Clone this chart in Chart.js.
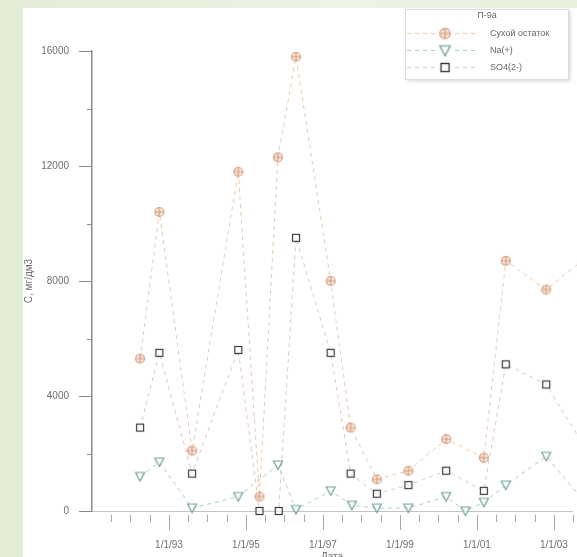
<!DOCTYPE html>
<html>
<head>
  <meta charset="utf-8">
  <title>П-9а</title>
  <script src="https://cdn.jsdelivr.net/npm/chart.js"></script>
  <style>
    html, body {
      margin: 0;
      padding: 0;
      width: 577px;
      height: 557px;
      overflow: hidden;
      background: linear-gradient(90deg, #e3edd6 0%, #edf3e5 60%, #e8f0dc 100%);
    }
    #panel {
      position: absolute;
      left: 23px;
      top: 8px;
      right: 0;
      bottom: 0;
      background: #fff;
    }
    #chart {
      position: absolute;
      left: 0;
      top: 0;
      filter: blur(0.35px);
    }
  </style>
</head>
<body>
  <div id="panel"></div>
  <canvas id="chart" width="577" height="570"></canvas>

  <script>
    // Сухой остаток
    var dryDates  = [1992.25, 1992.75, 1993.6, 1994.8, 1995.35, 1995.83, 1996.3, 1997.2, 1997.72, 1998.4, 1999.22, 2000.2, 2001.18, 2001.75, 2002.8, 2004.0];
    var dryValues = [5300, 10400, 2100, 11800, 500, 12300, 15800, 8000, 2900, 1100, 1400, 2500, 1850, 8700, 7700, 9000];

    // Na(+)
    var naDates  = [1992.25, 1992.75, 1993.6, 1994.8, 1995.83, 1996.3, 1997.2, 1997.75, 1998.4, 1999.22, 2000.2, 2000.7, 2001.18, 2001.75, 2002.8, 2004.0];
    var naValues = [1200, 1700, 100, 500, 1600, 50, 700, 200, 100, 100, 500, 0, 300, 900, 1900, 0];

    // SO4(2-)
    var so4Dates  = [1992.25, 1992.75, 1993.6, 1994.8, 1995.35, 1995.85, 1996.3, 1997.2, 1997.72, 1998.4, 1999.22, 2000.2, 2001.18, 2001.75, 2002.8, 2004.0];
    var so4Values = [2900, 5500, 1300, 5600, 0, 0, 9500, 5500, 1300, 600, 900, 1400, 700, 5100, 4400, 1800];

    var seriesNames = ["Сухой остаток", "Na(+)", "SO4(2-)"];
    var labelYears = [1993, 1995, 1997, 1999, 2001, 2003];
    var yMajor = [0, 4000, 8000, 12000, 16000];

    function points(dates, values) {
      return dates.map(function (d, i) { return { x: d, y: values[i] }; });
    }

    // маркеры как в Surfer: ⊕, ▽, □
    function marker(kind, stroke, fill) {
      var s = 12;
      var c = document.createElement("canvas");
      c.width = s; c.height = s;
      var g = c.getContext("2d");
      g.strokeStyle = stroke;
      g.fillStyle = fill;
      g.lineWidth = 1.2;
      if (kind === "circle") {
        g.beginPath(); g.arc(6, 6, 4.5, 0, Math.PI * 2); g.fill(); g.stroke();
        g.beginPath(); g.moveTo(1.5, 6); g.lineTo(10.5, 6); g.moveTo(6, 1.5); g.lineTo(6, 10.5); g.stroke();
      } else if (kind === "triangle") {
        g.beginPath(); g.moveTo(1.5, 2); g.lineTo(10.5, 2); g.lineTo(6, 10.5); g.closePath(); g.fill(); g.stroke();
      } else {
        g.fillRect(2, 2, 8, 8);
        g.strokeRect(2.5, 2.5, 7, 7);
      }
      return c;
    }

    var dryMarker = marker("circle", "#d6a184", "rgba(240,200,170,0.45)");
    var naMarker = marker("triangle", "#73a09b", "rgba(255,255,255,0.6)");
    var so4Marker = marker("square", "#3a3a3a", "rgba(255,255,255,0.6)");

    var tickMarks = {
      id: "tickMarks",
      afterDraw: function (chart) {
        var ctx = chart.ctx, x = chart.scales.x, y = chart.scales.y;
        ctx.save();
        ctx.lineWidth = 1;
        ctx.strokeStyle = "#a8a8a8";
        x.ticks.forEach(function (t) {
          if (t.value <= x.min) return;
          var px = Math.round(x.getPixelForValue(t.value)) + 0.5;
          var major = labelYears.indexOf(t.value) >= 0;
          ctx.beginPath();
          ctx.moveTo(px, y.bottom + 4);
          ctx.lineTo(px, y.bottom + (major ? 19 : 11));
          ctx.stroke();
        });
        ctx.strokeStyle = "#8a8a8a";
        y.ticks.forEach(function (t) {
          var py = Math.round(y.getPixelForValue(t.value)) + 0.5;
          var major = yMajor.indexOf(t.value) >= 0;
          ctx.beginPath();
          ctx.moveTo(y.right - (major ? 13 : 5), py);
          ctx.lineTo(y.right, py);
          ctx.stroke();
        });
        ctx.restore();
      }
    };

    var boxLegend = {
      id: "boxLegend",
      afterDraw: function (chart) {
        var ctx = chart.ctx;
        var bx = 405, by = 9, bw = 163, bh = 70;
        ctx.save();
        ctx.shadowColor = "rgba(0,0,0,0.18)";
        ctx.shadowBlur = 4;
        ctx.shadowOffsetX = 2;
        ctx.shadowOffsetY = 2;
        ctx.fillStyle = "#fff";
        ctx.fillRect(bx, by, bw, bh);
        ctx.shadowColor = "transparent";
        ctx.strokeStyle = "#dcdcdc";
        ctx.lineWidth = 1;
        ctx.strokeRect(bx + 0.5, by + 0.5, bw, bh);

        ctx.fillStyle = "#666";
        ctx.font = "9px 'Liberation Sans', Arial, sans-serif";
        ctx.textAlign = "center";
        ctx.textBaseline = "middle";
        ctx.fillText("П-9а", 487, 16);

        var rows = [33, 50, 67];
        chart.data.datasets.forEach(function (ds, i) {
          var ry = rows[i] + 0.5;
          ctx.strokeStyle = ds.borderColor;
          ctx.setLineDash(ds.borderDash);
          ctx.lineWidth = 1;
          ctx.beginPath();
          ctx.moveTo(407, ry);
          ctx.lineTo(478, ry);
          ctx.stroke();
          ctx.setLineDash([]);
          var img = ds.pointStyle;
          ctx.fillStyle = "#fff";
          ctx.fillRect(445 - 7, ry - 7, 14, 14);
          ctx.drawImage(img, 445 - img.width * 0.575, ry - img.height * 0.575, img.width * 1.15, img.height * 1.15);
          ctx.fillStyle = "#666";
          ctx.textAlign = "left";
          ctx.fillText(ds.label, 490, ry);
        });
        ctx.restore();
      }
    };

    var font = { family: "'Liberation Sans', Arial, sans-serif", size: 10 };

    var ctx = document.getElementById("chart").getContext("2d");
    var chart = new Chart(ctx, {
      type: "line",
      data: {
        datasets: [{
          label: seriesNames[0],
          data: points(dryDates, dryValues),
          borderColor: "#f2c7a4",
          borderDash: [4, 4],
          borderWidth: 1,
          pointStyle: dryMarker,
          clip: false,
          fill: false
        }, {
          label: seriesNames[1],
          data: points(naDates, naValues),
          borderColor: "#a5cfc8",
          borderDash: [4, 4],
          borderWidth: 1,
          pointStyle: naMarker,
          clip: false,
          fill: false
        }, {
          label: seriesNames[2],
          data: points(so4Dates, so4Values),
          borderColor: "#dcc6c6",
          borderDash: [4, 4],
          borderWidth: 1,
          pointStyle: so4Marker,
          clip: false,
          fill: false
        }]
      },
      options: {
        responsive: false,
        animation: false,
        layout: { padding: { top: 51, right: 0, left: 0, bottom: 0 } },
        plugins: {
          legend: { display: false },
          tooltip: { enabled: false }
        },
        scales: {
          x: {
            type: "linear",
            min: 1991,
            max: 2003.47,
            afterBuildTicks: function (scale) {
              var t = [];
              for (var v = 1991; v <= 2003.5; v += 0.5) t.push({ value: v });
              scale.ticks = t;
            },
            afterFit: function (scale) {
              scale.height = 59;
              scale.paddingLeft = 0;
              scale.paddingRight = 0;
            },
            grid: { display: false, drawTicks: false, tickLength: 0 },
            border: { display: true, color: "#c4c4c4", width: 1 },
            ticks: {
              autoSkip: false,
              maxRotation: 0,
              padding: 28,
              color: "#707070",
              font: font,
              callback: function (v) {
                return labelYears.indexOf(v) >= 0 ? "1/1/" + String(v).slice(2) : "";
              }
            },
            title: {
              display: true,
              text: "Дата",
              color: "#707070",
              font: font,
              padding: { top: 0, bottom: 7 }
            }
          },
          y: {
            min: 0,
            max: 16000,
            afterBuildTicks: function (scale) {
              var t = [];
              for (var v = 0; v <= 16000; v += 2000) t.push({ value: v });
              scale.ticks = t;
            },
            afterFit: function (scale) {
              scale.width = 92;
              scale.paddingTop = 0;
              scale.paddingBottom = 0;
            },
            grid: { display: false, drawTicks: false, tickLength: 0 },
            border: { display: true, color: "#8c8c8c", width: 1.5 },
            ticks: {
              padding: 23,
              color: "#707070",
              font: font,
              callback: function (v) {
                return yMajor.indexOf(v) >= 0 ? String(v) : "";
              }
            },
            title: {
              display: true,
              text: "C, мг/дм3",
              color: "#707070",
              font: font,
              padding: { top: 23, bottom: 0 }
            }
          }
        }
      },
      plugins: [tickMarks, boxLegend]
    });
  </script>
</body>
</html>
